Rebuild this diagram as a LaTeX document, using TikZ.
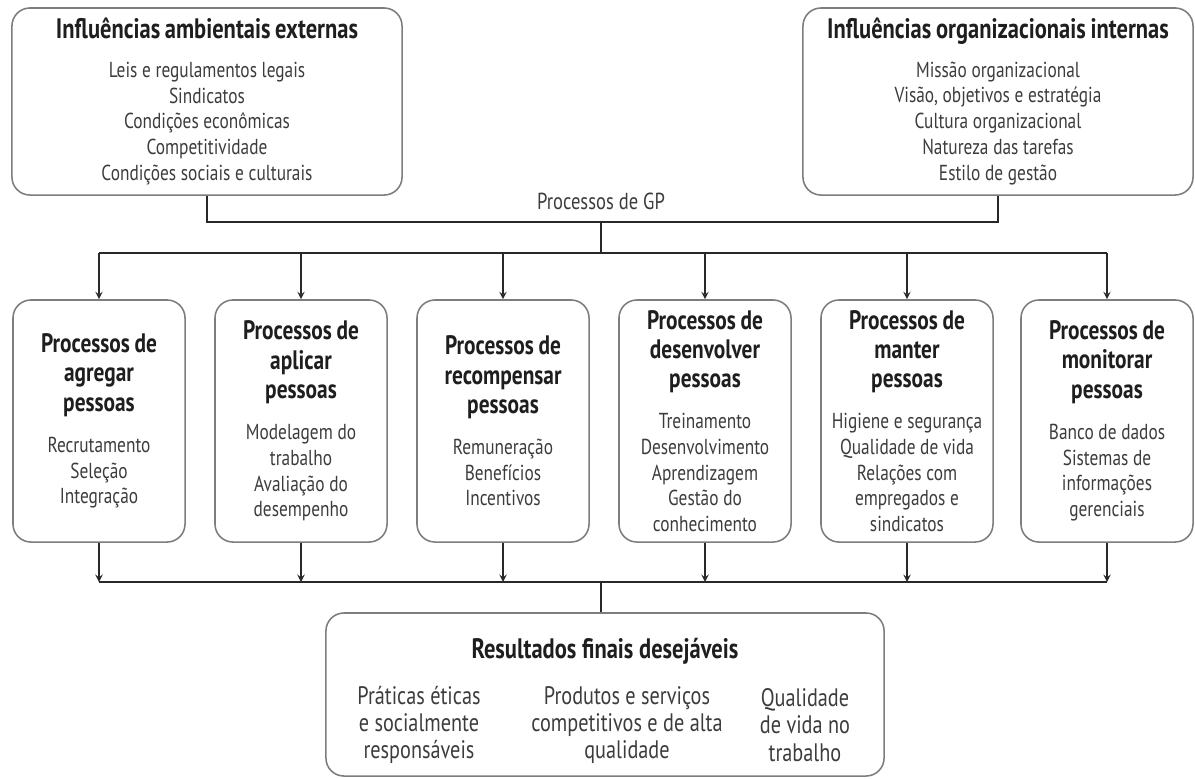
\documentclass[tikz,border=0pt]{standalone}
\usepackage{fontspec}
\setmainfont{PT Sans}[FakeStretch=0.8]
\usetikzlibrary{positioning}
\usetikzlibrary{arrows}
\definecolor{boxline}{RGB}{125,125,125}
\definecolor{txtcol}{RGB}{60,60,60}
\definecolor{headcol}{RGB}{30,30,30}
\definecolor{linecol}{RGB}{40,40,40}
\def\itemfont{\fontsize{15.4}{18.3}\selectfont\color{txtcol}}
\def\headfont{\fontsize{20}{24}\selectfont\bfseries\color{headcol}}
\def\procfont{\fontsize{19}{20.8}\selectfont\bfseries\color{headcol}}
\def\colfont{\fontsize{18}{19.4}\selectfont\color{txtcol}}
\tikzset{
	roundbox/.style={draw=boxline,line width=1.1pt,rounded corners=0.45cm,
		align=center,inner sep=0pt},
	inflbox/.style={roundbox,minimum width=9.75cm,minimum height=4.675cm,text width=9.5cm},
	procbox/.style={roundbox,minimum width=4.3cm,minimum height=6.05cm,text width=4.25cm},
	flow/.style={linecol,line width=1.3pt},
	flowarr/.style={flow,-stealth}}
\begin{document}
\begin{tikzpicture}[x=0.025cm,y=-0.025cm]
\useasboundingbox (0,0) rectangle (1195,778);
% influences
\node [inflbox] (ext) at (207,101.5) {{\headfont Influências ambientais externas\par}\vspace{9pt}
	{\itemfont Leis e regulamentos legais\\Sindicatos\\Condições econômicas\\Competitividade\\Condições sociais e culturais\par}};
\node [inflbox] (int) at (998,101.5) {{\headfont Influências organizacionais internas\par}\vspace{9pt}
	{\itemfont Missão organizacional\\Visão, objetivos e estratégia\\Cultura organizacional\\Natureza das tarefas\\Estilo de gestão\par}};
\coordinate (gp) at (601,222);
\coordinate (split) at (601,253);
\coordinate (join) at (601,582);
\node [font=\itemfont\fontsize{16.5}{18}\selectfont] (gplabel) at (601,201) {Processos de GP};
\draw [flow] (ext.south) |- (gp) -| (int.south);
\draw [flow] (gp) -- (split);
% processes
\foreach \n/\x/\head/\items in {%
	agregar/99/{Processos de\\agregar\\pessoas}/{Recrutamento\\Seleção\\Integração},%
	aplicar/301/{Processos de\\aplicar\\pessoas}/{Modelagem do\\trabalho\\Avaliação do\\desempenho},%
	recompensar/503/{Processos de\\recompensar\\pessoas}/{Remuneração\\Benefícios\\Incentivos},%
	desenvolver/705/{Processos de\\desenvolver\\pessoas}/{Treinamento\\Desenvolvimento\\Aprendizagem\\Gestão do\\conhecimento},%
	manter/907/{Processos de\\manter\\pessoas}/{Higiene e segurança\\Qualidade de vida\\Relações com\\empregados e\\sindicatos},%
	monitorar/1107/{Processos de\\monitorar\\pessoas}/{Banco de dados\\Sistemas de\\informações\\gerenciais}} {
	\node [procbox] (\n) at (\x,421) {{\procfont \head\par}\vspace{11pt}{\itemfont \items\par}};
	\draw [flowarr] (\n.north |- split) -- (\n.north);
	\draw [flowarr] (\n.south) -- (\n.south |- join);}
\draw [flow] (agregar.north |- split) -- (monitorar.north |- split);
\draw [flow] (agregar.south |- join) -- (monitorar.south |- join);
% results
\node [roundbox,minimum width=13.95cm,minimum height=4.075cm] (res) at (605,694.5) {};
\draw [flow] (join) -- (join |- res.north);
\node [font=\headfont] (restitle) at (605,651) {Resultados finais desejáveis};
\node [align=center,font=\colfont] (etica) at (419,725)
	{Práticas éticas\\e socialmente\\responsáveis};
\node [align=center,font=\colfont] (produtos) at (627,725)
	{Produtos e serviços\\competitivos e de alta\\qualidade};
\node [align=center,font=\colfont] (qualidade) at (805,725)
	{Qualidade\\de vida no\\trabalho};
\end{tikzpicture}
\end{document}
